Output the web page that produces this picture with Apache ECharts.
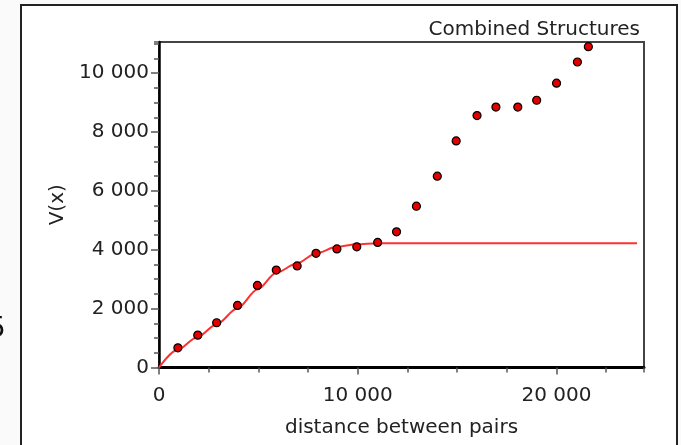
<!DOCTYPE html>
<html>
<head>
<meta charset="utf-8">
<script src="https://cdn.jsdelivr.net/npm/echarts@6/dist/echarts.min.js"></script>
<style>
  html, body { margin: 0; padding: 0; background: #fafafa; }
  #chart { width: 681px; height: 445px; }
</style>
</head>
<body>
<div id="chart"></div>
<script>
// experimental variogram points
var lagX = [950, 1950, 2900, 3950, 4950, 5900, 6950, 7900, 8950, 9950, 11000,
            11950, 12950, 14000, 14950, 16000, 16950, 18050, 19000, 20000, 21050, 21600];
var semivar = [670, 1100, 1520, 2110, 2790, 3310, 3450, 3880, 4030, 4100, 4250,
               4610, 5480, 6500, 7700, 8560, 8850, 8850, 9080, 9660, 10380, 10900];

// fitted model (combined structures)
var modelX = [0, 900, 1950, 2900, 3950, 4950, 5900, 6950, 7900, 8950, 9950, 11000, 12000, 24050];
var modelY = [0, 590, 1040, 1470, 2010, 2650, 3220, 3540, 3880, 4100, 4185, 4220, 4225, 4225];

var xTickLabels = [0, 10000, 20000];
var yTickLabels = [0, 2000, 4000, 6000, 8000, 10000];

var chart = echarts.init(document.getElementById('chart'));

function fmt(v) {
    return String(v).replace(/\B(?=(\d{3})+(?!\d))/g, ' ');
}

var pts = lagX.map(function(x, i) { return [x, semivar[i]]; });
var model = modelX.map(function(x, i) { return [x, modelY[i]]; });

var font = 'DejaVu Sans';
var txt = '#222';

var option = {
    animation: false,
    backgroundColor: 'transparent',
    graphic: [
        {
            type: 'rect',
            shape: { x: 21, y: 5, width: 656, height: 460 },
            style: { fill: '#fff', stroke: '#222', lineWidth: 2 },
            z: -10
        },
        {
            type: 'text',
            x: -12, y: 330,
            style: { text: '5', font: '28px DejaVu Sans', fill: '#111', textVerticalAlign: 'middle' }
        }
    ],
    title: {
        text: 'Combined Structures',
        right: 36,
        top: 15,
        textStyle: { fontFamily: font, fontSize: 20, fontWeight: 'normal', color: txt }
    },
    grid: {
        left: 159, right: 37, top: 42, bottom: 77.5,
        show: true,
        backgroundColor: '#fff',
        borderColor: '#444',
        borderWidth: 2
    },
    xAxis: [
        {
            type: 'value',
            min: 0, max: 24400, interval: 10000,
            name: 'distance between pairs',
            nameLocation: 'middle',
            nameGap: 50,
            nameTextStyle: { fontFamily: font, fontSize: 20, color: txt },
            axisLine: { lineStyle: { color: '#000', width: 3 } },
            axisTick: { length: 7, lineStyle: { color: '#555', width: 1.5 } },
            axisLabel: {
                margin: 18, fontFamily: font, fontSize: 20, color: txt,
                showMaxLabel: false,
                formatter: function(v) { return xTickLabels.indexOf(v) >= 0 ? fmt(v) : ''; }
            },
            splitLine: { show: false }
        },
        {
            type: 'value',
            position: 'bottom',
            min: 0, max: 24400, interval: 2500,
            axisLine: { show: false },
            axisTick: { length: 5, lineStyle: { color: '#555', width: 1.5 } },
            axisLabel: { show: false },
            splitLine: { show: false }
        }
    ],
    yAxis: [
        {
            type: 'value',
            min: 0, max: 11060, interval: 2000,
            name: 'V(x)',
            nameLocation: 'middle',
            nameGap: 88,
            nameTextStyle: { fontFamily: font, fontSize: 20, color: txt },
            axisLine: { show: true, lineStyle: { color: '#000', width: 2.5 } },
            axisTick: { show: true, length: 8, lineStyle: { color: '#555', width: 1.5 } },
            axisLabel: {
                margin: 10, fontFamily: font, fontSize: 20, color: txt,
                showMaxLabel: false,
                formatter: function(v) { return yTickLabels.indexOf(v) >= 0 ? fmt(v) : ''; }
            },
            splitLine: { show: false }
        },
        {
            type: 'value',
            position: 'left',
            min: 0, max: 11060, interval: 500,
            axisLine: { show: false },
            axisTick: { show: true, length: 5, lineStyle: { color: '#555', width: 1.5 } },
            axisLabel: { show: false },
            splitLine: { show: false }
        }
    ],
    series: [
        {
            type: 'line',
            data: model,
            smooth: 0.3,
            smoothMonotone: 'x',
            showSymbol: false,
            lineStyle: { color: '#ff3030', width: 2 },
            z: 2
        },
        {
            type: 'scatter',
            data: pts,
            symbol: 'circle',
            symbolSize: 8,
            itemStyle: { color: '#e00000', borderColor: '#000', borderWidth: 1.2, opacity: 1 },
            z: 3
        }
    ]
};
chart.setOption(option);
</script>
</body>
</html>
